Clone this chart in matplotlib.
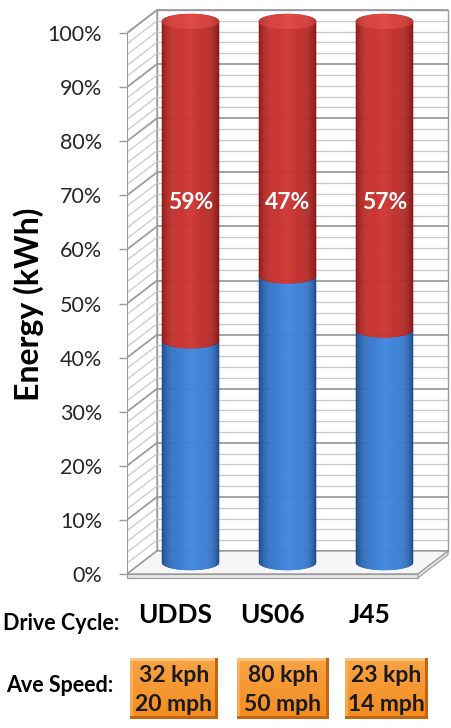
import numpy as np
import matplotlib.pyplot as plt
from matplotlib.collections import PolyCollection
from matplotlib.patches import Polygon
from matplotlib.colors import to_rgb

# energy split per drive cycle (percent of total)
cycles = ['UDDS', 'US06', 'J45']
blue_share = [41, 53, 43]
red_share = [59, 47, 57]
kph = [32, 80, 23]
mph = [20, 50, 14]
pct_ticks = list(range(0, 101, 10))
grid_steps = list(range(0, 101, 2))

plt.rcParams['font.family'] = ['Lato', 'DejaVu Sans']

W, H = 452, 728
fig = plt.figure(figsize=(W / 100, H / 100), dpi=100)

# front plane of the chart box in pixels
FX0, FX1 = 127, 418
FY0, FY100 = 574, 33
px_x = (FX1 - FX0) / 3.0
px_y = (FY0 - FY100) / 100.0
y_bot = -1.2
ax = fig.add_axes([FX0 / W, (H - (FY0 - y_bot * px_y)) / H,
                   (W - FX0) / W, (FY0 - y_bot * px_y) / H])
ax.set_xlim(-0.5, -0.5 + (W - FX0) / px_x)
ax.set_ylim(y_bot, FY0 / px_y)

DX = 30 / px_x   # depth offset of the back wall
DY = 23 / px_y

wall_edge = '#9a9a9a'
xl, xr = -0.5, 2.5

# back wall, side wall and floor
ax.add_patch(Polygon([(xl + DX, DY), (xr + DX, DY), (xr + DX, 100 + DY), (xl + DX, 100 + DY)],
                     closed=True, fc='white', ec=wall_edge, lw=1.0, zorder=0))
ax.add_patch(Polygon([(xl, 0), (xl + DX, DY), (xl + DX, 100 + DY), (xl, 100)],
                     closed=True, fc='white', ec=wall_edge, lw=1.0, zorder=0))
for v in grid_steps:
    major = v % 10 == 0
    c = '#9c9c9c' if major else '#c9c9c9'
    lw = 1.3 if major else 0.9
    ax.plot([xl + DX, xr + DX], [v + DY, v + DY], color=c, lw=lw, zorder=1, solid_capstyle='butt')
    ax.plot([xl, xl + DX], [v, v + DY], color=c, lw=lw, zorder=1)

slab = 0.7
ax.add_patch(Polygon([(xl, 0), (xr, 0), (xr + DX, DY), (xl + DX, DY)],
                     closed=True, fc='#f6f6f6', ec='#9a9a9a', lw=1.0, zorder=1.5))
ax.add_patch(Polygon([(xl, -slab), (xr, -slab), (xr, 0), (xl, 0)],
                     closed=True, fc='#e4e4e4', ec='#9a9a9a', lw=0.8, zorder=1.5))
ax.add_patch(Polygon([(xr, -slab), (xr + DX, DY - slab), (xr + DX, DY), (xr, 0)],
                     closed=True, fc='#e4e4e4', ec='#9a9a9a', lw=0.8, zorder=1.5))


def shade(u, hl, dark, light):
    span = hl if u < hl else 1 - hl
    t = max(0.0, 1 - ((u - hl) / span) ** 2) ** 0.5
    d, l = np.array(to_rgb(dark)), np.array(to_rgb(light))
    return tuple(d + (l - d) * t)


def cylinder_piece(xc, y0, y1, w, ry, dark, light, hl, z, face=False):
    n = 60
    edges = np.linspace(-1, 1, n + 1)
    polys, cols = [], []
    for a, b in zip(edges[:-1], edges[1:]):
        s = np.linspace(a, b, 4)
        arc = np.sqrt(np.clip(1 - s ** 2, 0, None))
        xx = xc + s * w / 2
        if face:
            lo, hi = y0 - ry * arc, y0 + ry * arc
        else:
            lo, hi = y0 - ry * arc, y1 - ry * arc
        polys.append(np.column_stack([np.r_[xx, xx[::-1]], np.r_[lo, hi[::-1]]]))
        cols.append(shade((a + b) / 4 + 0.5, hl, dark, light))
    pc = PolyCollection(polys, facecolors=cols, edgecolors=cols, linewidths=0.4, zorder=z)
    ax.add_collection(pc)


cyl_w = 57 / px_x
ry = 7.5 / px_y
base = DY / 2
for i, (b, r) in enumerate(zip(blue_share, red_share)):
    xc = i + DX / 2
    cylinder_piece(xc, base, base + b, cyl_w, ry, '#173f7c', '#3f86dc', 0.6, 3)
    cylinder_piece(xc, base + b, base + b + r, cyl_w, ry, '#7a1513', '#cc3531', 0.42, 4)
    cylinder_piece(xc, base + b + r, None, cyl_w, ry, '#b02a27', '#dc4440', 0.5, 5, face=True)
    ax.text(xc, base + 66.5, f'{r}%', color='white', fontsize=16.5, fontweight='bold',
            ha='center', va='center', zorder=6)

# axes styling
for side in ['top', 'right', 'bottom']:
    ax.spines[side].set_visible(False)
ax.spines['left'].set_bounds(0, 100)
ax.spines['left'].set_color(wall_edge)
ax.set_yticks(pct_ticks, [f'{v}%' for v in pct_ticks])
ax.tick_params(axis='y', length=6, width=1, color=wall_edge, pad=12,
               labelsize=15.5, labelcolor='#262626')
ax.set_xticks(range(len(cycles)), cycles)
ax.tick_params(axis='x', length=0, pad=16, labelsize=19)
for lbl in ax.get_xticklabels():
    lbl.set_fontweight('bold')
ax.patch.set_visible(False)

fig.text(29 / W, 1 - 304 / H, 'Energy (kWh)', rotation=90, fontsize=23,
         fontweight='bold', ha='center', va='center')
fig.text(119 / W, 1 - 624 / H, 'Drive Cycle:', fontsize=15.5, fontweight='bold',
         ha='right', va='center')
fig.text(113 / W, 1 - 686 / H, 'Ave Speed:', fontsize=15.5, fontweight='bold',
         ha='right', va='center')

# orange speed boxes
box_left = [130, 237, 345]
box_right = [218, 329, 427]
box_top, box_bot = 658, 719


def bevel_image(nx, ny):
    img = np.zeros((ny, nx, 3))
    top = np.array(to_rgb('#f9a446'))
    bot = np.array(to_rgb('#f28b1e'))
    for j in range(ny):
        img[j, :, :] = top + (bot - top) * j / (ny - 1)
    edge = np.array(to_rgb('#c4650f'))
    hi = np.array(to_rgb('#fcc27e'))
    e = 3
    img[:e, :, :] = hi
    img[:, :e, :] = img[:, :e, :] * 0.5 + hi * 0.5
    img[-e:, :, :] = edge
    img[:, -e:, :] = edge
    return img


for i in range(len(cycles)):
    x0, x1 = box_left[i], box_right[i]
    bx = fig.add_axes([x0 / W, 1 - box_bot / H, (x1 - x0) / W, (box_bot - box_top) / H])
    bx.imshow(bevel_image(x1 - x0, box_bot - box_top), aspect='auto', interpolation='nearest')
    bx.set_axis_off()
    bx.text(0.5, 0.72, f'{kph[i]} kph', transform=bx.transAxes, ha='center', va='center',
            fontsize=16.5, fontweight='bold', color='#1a1a1a')
    bx.text(0.5, 0.24, f'{mph[i]} mph', transform=bx.transAxes, ha='center', va='center',
            fontsize=16.5, fontweight='bold', color='#1a1a1a')

fig.savefig('out.png', dpi=100, facecolor='white')
